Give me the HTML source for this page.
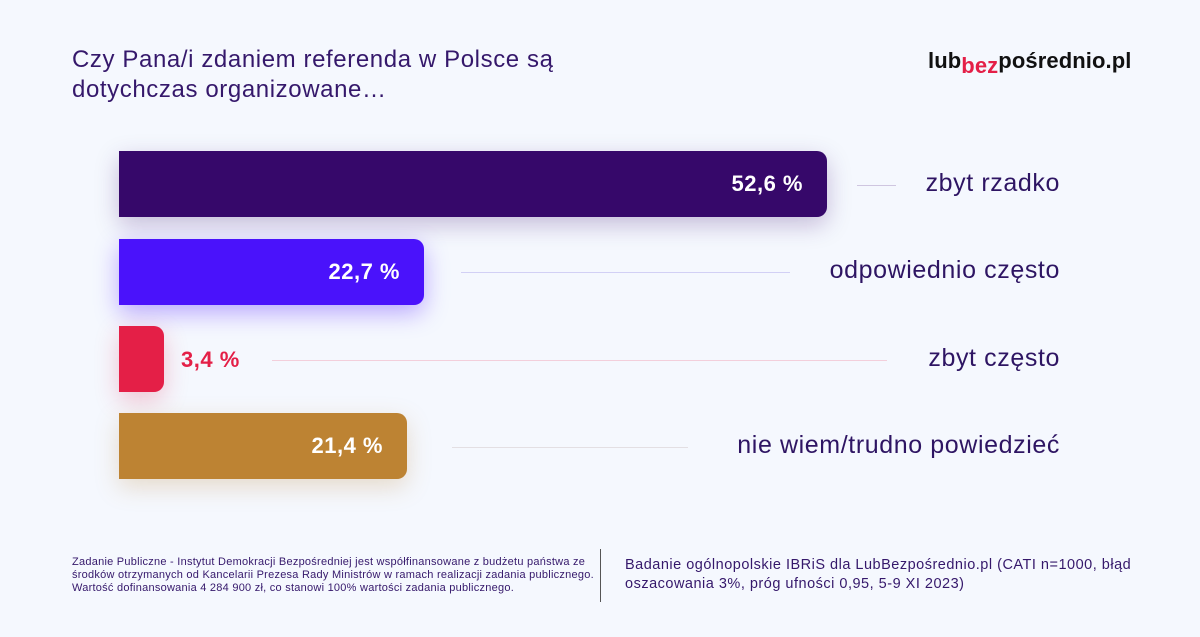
<!DOCTYPE html>
<html><head><meta charset="utf-8"><style>
body{margin:0;width:1200px;height:637px;background:#f5f8fe;font-family:"Liberation Sans",sans-serif;position:relative;overflow:hidden;color:#2e1563}
.a{position:absolute}
.bar{position:absolute;left:119px;height:66px;border-radius:0 10px 10px 0;color:#fff;font-weight:bold;font-size:22px;letter-spacing:0.5px;text-align:right;line-height:66px;box-sizing:border-box;padding-right:24px}
.lbl{position:absolute;right:140px;font-size:25px;letter-spacing:0.6px;color:#2e1563}
.ln{position:absolute;height:1px}
</style></head><body>
<div class="a" style="left:72px;top:45px;font-size:24px;letter-spacing:0.6px;line-height:30px;color:#35186b">Czy Pana/i zdaniem referenda w Polsce są<br>dotychczas organizowane…</div>
<div class="a" style="left:928px;top:48px;font-size:22px;font-weight:bold;color:#111;letter-spacing:0.1px">lub<span style="color:#e41f47;position:relative;top:5px">bez</span>pośrednio.pl</div>

<div class="bar" style="top:151px;width:708px;background:#36086a;box-shadow:0 8px 24px rgba(54,8,106,0.25)">52,6 %</div>
<div class="ln" style="left:857px;width:39px;top:185px;background:#cfc6e0"></div>
<div class="lbl" style="top:169px">zbyt rzadko</div>

<div class="bar" style="top:239px;width:305px;background:#4a12fb;box-shadow:0 8px 24px rgba(74,18,251,0.35)">22,7 %</div>
<div class="ln" style="left:461px;width:329px;top:272px;background:#d2d0f5"></div>
<div class="lbl" style="top:256px">odpowiednio często</div>

<div class="bar" style="top:326px;width:45px;background:#e41f47;box-shadow:0 8px 24px rgba(228,31,71,0.25)"></div>
<div class="a" style="left:181px;top:347px;font-size:22px;letter-spacing:0.5px;font-weight:bold;color:#e41f47">3,4 %</div>
<div class="ln" style="left:272px;width:615px;top:360px;background:#f3cfdb"></div>
<div class="lbl" style="top:344px">zbyt często</div>

<div class="bar" style="top:413px;width:288px;background:#bd8333;box-shadow:0 8px 24px rgba(189,131,51,0.25)">21,4 %</div>
<div class="ln" style="left:452px;width:236px;top:447px;background:#e3dfe3"></div>
<div class="lbl" style="top:431px">nie wiem/trudno powiedzieć</div>

<div class="a" style="left:72px;top:556px;font-size:11px;letter-spacing:0.25px;line-height:13px;color:#35186b">Zadanie Publiczne - Instytut Demokracji Bezpośredniej jest współfinansowane z budżetu państwa ze<br>środków otrzymanych od Kancelarii Prezesa Rady Ministrów w ramach realizacji zadania publicznego.<br>Wartość dofinansowania 4 284 900 zł, co stanowi 100% wartości zadania publicznego.</div>
<div class="a" style="left:600px;top:549px;width:1px;height:53px;background:#555"></div>
<div class="a" style="left:625px;top:556px;font-size:14.5px;letter-spacing:0.5px;line-height:19px;color:#35186b">Badanie ogólnopolskie IBRiS dla LubBezpośrednio.pl (CATI n=1000, błąd<br>oszacowania 3%, próg ufności 0,95, 5-9 XI 2023)</div>
</body></html>
